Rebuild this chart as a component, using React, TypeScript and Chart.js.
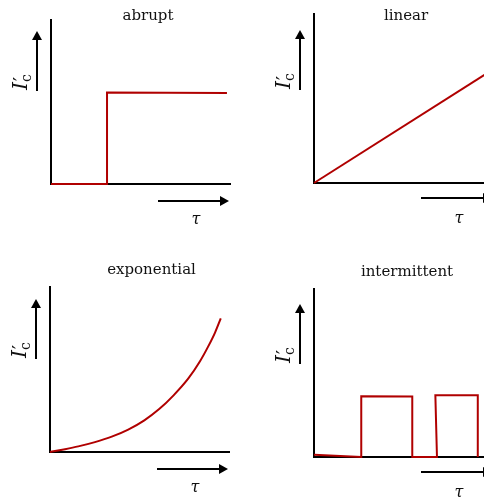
import React, { useEffect, useRef } from "react";
import { Chart, registerables } from "chart.js";

Chart.register(...registerables);

const RED = "#b00000";

// abrupt
const abruptX = [0, 3.13, 3.13, 9.83];
const abruptY = [0, 0, 5.58, 5.55];
// linear
const linearX = [0, 9.83];
const linearY = [0, 6.61];
// exponential
const expX = [0, 0.84, 1.58, 2.51, 3.45, 4.37, 5.27, 6.1, 6.89, 7.73, 8.38, 8.84, 9.22, 9.54];
const expY = [0, 0.17, 0.34, 0.6, 0.93, 1.36, 1.92, 2.6, 3.42, 4.46, 5.5, 6.4, 7.24, 8.1];
// intermittent
const interX = [0, 2.64, 2.64, 5.49, 5.49, 6.87, 6.78, 9.15, 9.15];
const interY = [0.14, 0, 3.62, 3.6, 0, 0, 3.68, 3.68, 0];

const titles = ["abrupt", "linear", "exponential", "intermittent"];
const xLabel = "τ";

const decor = {
  id: "decor",
  afterDraw(chart: any, _args: any, o: any) {
    const { ctx, chartArea: a } = chart;
    ctx.save();
    ctx.fillStyle = "#111";
    ctx.font = "15px 'DejaVu Serif'";
    ctx.textAlign = "center";
    ctx.textBaseline = "alphabetic";
    ctx.fillText(o.title, o.titleX, o.titleY);

    ctx.strokeStyle = "#000";
    ctx.fillStyle = "#000";
    ctx.lineWidth = 2;
    // y arrow
    const ax = a.left - 14;
    const tip = a.bottom - 153;
    const base = a.bottom - 93;
    ctx.beginPath();
    ctx.moveTo(ax, base);
    ctx.lineTo(ax, tip + 7);
    ctx.stroke();
    ctx.beginPath();
    ctx.moveTo(ax, tip);
    ctx.lineTo(ax - 5, tip + 9);
    ctx.lineTo(ax + 5, tip + 9);
    ctx.closePath();
    ctx.fill();

    // x arrow
    const ay = a.bottom + o.tauDy;
    const x0 = a.right - 72;
    const x1 = a.right - 1;
    ctx.beginPath();
    ctx.moveTo(x0, ay);
    ctx.lineTo(x1 - 7, ay);
    ctx.stroke();
    ctx.beginPath();
    ctx.moveTo(x1, ay);
    ctx.lineTo(x1 - 9, ay - 5);
    ctx.lineTo(x1 - 9, ay + 5);
    ctx.closePath();
    ctx.fill();

    // tau label
    ctx.fillStyle = "#111";
    ctx.font = "italic 16px 'DejaVu Serif'";
    ctx.textAlign = "center";
    ctx.fillText(xLabel, a.right - 34, a.bottom + 40);

    // I'_c label
    ctx.save();
    ctx.translate(a.left - 24, a.bottom - 94);
    ctx.rotate(-Math.PI / 2);
    ctx.textAlign = "left";
    ctx.textBaseline = "alphabetic";
    ctx.font = "italic 20px 'DejaVu Serif'";
    ctx.fillText("I", 0, 0);
    const w = ctx.measureText("I").width;
    ctx.font = "18px 'DejaVu Serif'";
    ctx.fillText("′", w + 1, 0);
    ctx.font = "14px 'DejaVu Serif'";
    ctx.fillText("c", w, 4);
    ctx.restore();

    ctx.restore();
  },
};

const panels = [
  { left: 0, top: 0, pad: { left: 51, top: 20, right: 33, bottom: 66 }, title: titles[0], titleX: 148, titleY: 20, tauDy: 17, xs: abruptX, ys: abruptY, smooth: false },
  { left: 263, top: 0, pad: { left: 51, top: 14, right: 33, bottom: 67 }, title: titles[1], titleX: 143, titleY: 20, tauDy: 15, xs: linearX, ys: linearY, smooth: false },
  { left: 0, top: 250, pad: { left: 50, top: 37, right: 34, bottom: 48 }, title: titles[2], titleX: 151.5, titleY: 24, tauDy: 17, xs: expX, ys: expY, smooth: true },
  { left: 263, top: 250, pad: { left: 51, top: 39, right: 33, bottom: 43 }, title: titles[3], titleX: 144, titleY: 26, tauDy: 15, xs: interX, ys: interY, smooth: false },
];

function axis() {
  return {
    type: "linear" as const,
    min: 0,
    max: 10,
    grid: { display: false, drawTicks: false, tickLength: 0 },
    ticks: { display: false },
    border: { display: true, color: "#000", width: 2 },
  };
}

function Panel({ p }: { p: any }) {
  const ref = useRef<HTMLCanvasElement>(null);
  useEffect(() => {
    const chart = new Chart(ref.current!, {
      type: "line",
      data: {
        datasets: [
          {
            data: p.xs.map((x: number, i: number) => ({ x, y: p.ys[i] })),
            borderColor: RED,
            borderWidth: 2,
            pointRadius: 0,
            tension: p.smooth ? 0.4 : 0,
            fill: false,
            clip: false as any,
            cubicInterpolationMode: p.smooth ? "monotone" : "default",
          },
        ],
      },
      options: {
        animation: false,
        responsive: false,
        layout: { padding: p.pad, autoPadding: false },
        scales: { x: axis(), y: axis() },
        plugins: {
          legend: { display: false },
          tooltip: { enabled: false },
          title: { display: false },
          decor: { title: p.title, titleX: p.titleX, titleY: p.titleY, tauDy: p.tauDy },
        } as any,
      },
      plugins: [decor],
    });
    return () => chart.destroy();
  }, []);
  return (
    <canvas
      ref={ref}
      width={263}
      height={250}
      style={{ position: "absolute", left: p.left, top: p.top, width: 263, height: 250 }}
    />
  );
}

export default function App() {
  return (
    <div
      style={{
        position: "fixed",
        left: 0,
        top: 0,
        width: 484,
        height: 500,
        overflow: "hidden",
        background: "#fff",
      }}
    >
      {panels.map((p, i) => (
        <Panel key={i} p={p} />
      ))}
    </div>
  );
}
